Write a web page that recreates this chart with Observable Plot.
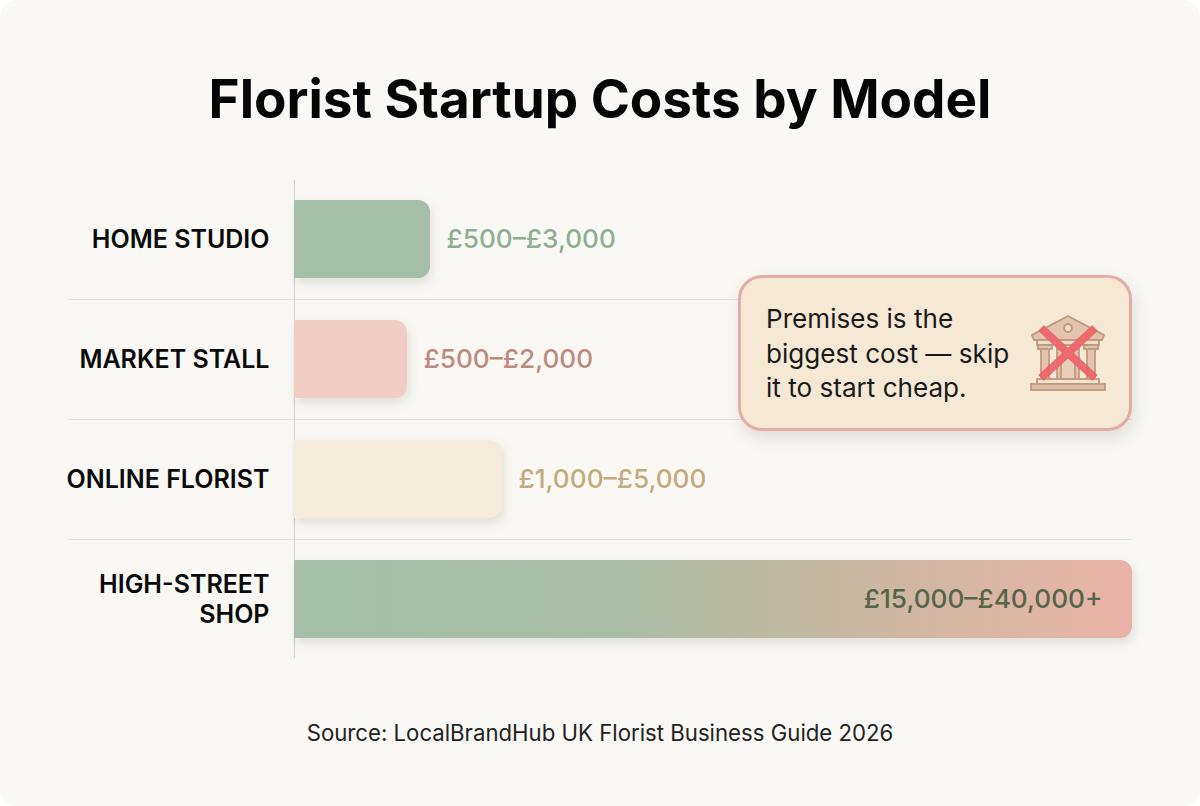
<!DOCTYPE html>
<html><head><meta charset="utf-8">
<script src="https://cdn.jsdelivr.net/npm/d3@7"></script>
<script src="https://cdn.jsdelivr.net/npm/@observablehq/plot@0.6"></script>
<style>
html,body{margin:0;padding:0;background:#fff;overflow:hidden}
#card{position:relative;width:1200px;height:806px;background:#f9f8f4;border-radius:16px;overflow:hidden;font-family:Inter,sans-serif}
#title{position:absolute;left:0;right:0;top:64px;margin:0;text-align:center;font-size:53px;line-height:70px;font-weight:700;color:#050505}
#chart{position:absolute;left:0;top:160px}
#source{position:absolute;left:0;right:0;top:718px;text-align:center;font-size:22.2px;line-height:30px;color:#222}
#callout{position:absolute;left:738px;top:275px;width:394px;height:156px;box-sizing:border-box;background:#f5e9d6;border:3px solid #e3aca5;border-radius:24px;box-shadow:2px 7px 16px rgba(60,50,40,.13)}
#callout p{position:absolute;left:25px;top:24px;margin:0;font-size:26.1px;line-height:34.7px;color:#1a1a1a}
#callout svg{position:absolute;left:289px;top:37px}
</style></head>
<body><div id="card">
<h1 id="title">Florist Startup Costs by Model</h1>
<div id="chart"></div>
<div id="callout"><p>Premises is the<br>biggest cost — skip<br>it to start cheap.</p>
<svg width="76" height="78" viewBox="0 0 76 78">
<g fill="#e3c3ac" stroke="#bd9a7e" stroke-width="1.8">
<path d="M38 1 L74 20 L72 25 L4 25 L2 20 Z"/>
<rect x="7" y="25" width="62" height="5" fill="#f0dcc6"/>
<rect x="8" y="30" width="14" height="4"/><rect x="54" y="30" width="14" height="4"/><rect x="27" y="30" width="8" height="4"/><rect x="41" y="30" width="8" height="4"/>
<rect x="11" y="34" width="8" height="30"/><rect x="27" y="34" width="6" height="30"/><rect x="43" y="34" width="6" height="30"/><rect x="57" y="34" width="8" height="30"/>
<path d="M31 64 V47 Q38 39 45 47 V64 Z" fill="#eccfb8"/>
<rect x="7" y="64" width="62" height="5" fill="#f3e3cf"/>
<rect x="1" y="69" width="74" height="6" fill="#dcbfa6"/>
<circle cx="38" cy="13" r="4" fill="#f0dcc6"/>
</g>
<path d="M11 13 L65 63 M65 13 L11 63" stroke="#ee6468" stroke-width="8" fill="none" opacity=".93"/>
</svg></div>
<div id="source">Source: LocalBrandHub UK Florist Business Guide 2026</div>
</div>
<script>
const models = ["HOME STUDIO", "MARKET STALL", "ONLINE FLORIST", "HIGH-STREET SHOP"];
const upperCost = [3000, 2000, 5000, 40000];
const rangeLabels = ["£500–£3,000", "£500–£2,000", "£1,000–£5,000", "£15,000–£40,000+"];
const barFills = ["#a4bea7", "#f1cdc5", "#f6ecdc", "url(#barGradient)"];
const labelFills = ["#8fae92", "#bd8a80", "#c4ab7e", "#55654a"];
const dividerAfter = models.slice(0, 3);
const tickText = new Map([["HIGH-STREET SHOP", "HIGH-STREET\nSHOP"]]);
// the source compresses its bars rather than drawing them in proportion to cost
const costBreaks = [0, 2000, 3000, 5000, 40000];
const shownShare = [0, 0.1348, 0.1623, 0.2482, 1];
const compress = d3.scaleLinear().domain(costBreaks).range(shownShare);

const rows = models.map((model, i) => ({model, upper: upperCost[i], label: rangeLabels[i], fill: barFills[i], labelFill: labelFills[i]}));
const shadow = "drop-shadow(2px 5px 5px rgba(70,60,50,.13))";

const plot = Plot.plot({
  width: 1200, height: 520,
  marginTop: 19, marginBottom: 21, marginLeft: 294, marginRight: 68,
  style: {background: "transparent", fontFamily: "Inter, sans-serif", overflow: "visible"},
  x: {domain: [0, 1], transform: compress, axis: null},
  y: {domain: models, padding: 0, label: null},
  color: {type: "identity"},
  marks: [
    Plot.ruleY(dividerAfter, {y: d => d, dy: 60, insetLeft: -226, stroke: "#e3e1db", strokeWidth: 1.2}),
    Plot.ruleX([0], {stroke: "#d3d1cb", strokeWidth: 1.2, insetTop: 1, insetBottom: 1}),
    Plot.barX(rows, {x: "upper", y: "model", fill: "fill", insetTop: 21, insetBottom: 21, rx2: 12, imageFilter: shadow}),
    Plot.axisY({anchor: "left", tickSize: 0, tickPadding: 25, fontSize: 25, fontWeight: 600, lineHeight: 1.2, label: null, fill: "#0a0a0a", dy: -1,
      tickFormat: d => tickText.get(d) ?? d}),
    Plot.text(rows.slice(0, 3), {x: "upper", y: "model", text: "label", fill: "labelFill", dx: 16, textAnchor: "start", fontSize: 26.2, fontWeight: 500}),
    Plot.text(rows.slice(3), {x: "upper", y: "model", text: "label", fill: "labelFill", dx: -30, textAnchor: "end", fontSize: 26.2, fontWeight: 500})
  ]
});
const defs = d3.create("svg:defs");
const g = defs.append("linearGradient").attr("id", "barGradient");
[[0, "#a4bea7"], [0.38, "#a9bca6"], [0.55, "#bbb9a2"], [0.8, "#d6b6a4"], [1, "#ebb3a8"]].forEach(([o, c]) => g.append("stop").attr("offset", o).attr("stop-color", c));
plot.prepend(defs.node());
document.getElementById("chart").append(plot);
</script>
</body></html>
